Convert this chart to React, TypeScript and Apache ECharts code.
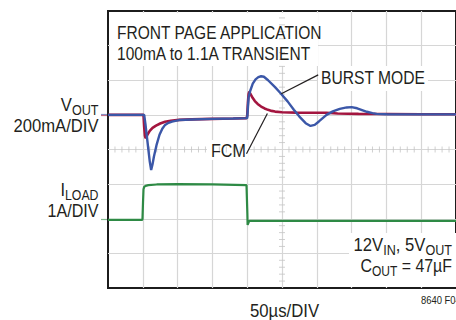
import React, { useEffect, useRef } from "react";
import * as echarts from "echarts";

// time in µs (50 µs/div), VOUT deviation in mV, ILOAD in A
const timeTicksUs = [0, 50, 100, 150, 200, 250, 300, 350, 400, 450, 500];
const divTicks = [0, 1, 2, 3, 4, 5, 6, 7, 8];

const fcmVout: [number, number][] = [
  [0, 0], [20, 1], [40, 0], [51, 0], [52, -70], [53, -120], [54, -135], [55, -130], [57, -112],
  [60, -92], [64, -75], [69, -62], [75, -50], [82, -40], [90, -34], [102, -29], [120, -26],
  [150, -23], [180, -21], [199, -19], [200, -5], [201, 70], [202, 120], [203, 135], [205, 118],
  [208, 97], [211, 80], [215, 63], [220, 48], [225, 37], [230, 29], [235, 23], [240, 19],
  [250, 15], [270, 13], [314, 12], [330, 8], [360, 6], [400, 5], [450, 4], [500, 4],
];

const burstVout: [number, number][] = [
  [0, 0], [30, 0], [52, 0], [54, -60], [56, -130], [58, -200], [60, -270], [62, -318], [64, -285],
  [66, -240], [70, -170], [74, -115], [78, -80], [82, -58], [87, -46], [92, -39], [102, -30],
  [120, -27], [150, -23], [180, -21], [200, -19], [201, 40], [202, 100], [204, 135], [208, 180],
  [212, 205], [216, 218], [220, 223], [224, 220], [230, 200], [240, 160], [248, 125], [258, 78],
  [267, 30], [275, -10], [284, -48], [291, -64], [297, -58], [303, -38], [314, 0], [323, 20],
  [333, 35], [343, 43], [350, 45], [358, 38], [365, 28], [372, 18], [380, 10], [386, 6],
  [400, 4], [450, 3], [500, 3],
];

const loadCurrent: [number, number][] = [
  [0, 0.1], [49.5, 0.1], [50.3, 0.6], [51, 0.98], [52, 1.05], [54, 1.08], [58, 1.1], [70, 1.12],
  [100, 1.13], [150, 1.12], [199, 1.1], [199.6, 1.1], [200.2, 0.3], [200.6, -0.05], [201.5, -0.05],
  [202.5, 0.05], [203.5, 0.07], [250, 0.07], [350, 0.07], [500, 0.07],
];

// annotation arrows: [start, end] in [µs, mV]
const burstArrow: [number, number][] = [[302, 231], [249, 122]];
const fcmArrow: [number, number][] = [[199, -225], [229, 8]];

const FONT = "'Liberation Sans', Arial, sans-serif";
const INK = "#231f20";
const BLUE = "#3b57a8";
const RED = "#a3153f";
const GREEN = "#2e8a45";
const GRID = "#d6d6d6";

export default function App() {
  const ref = useRef<HTMLDivElement>(null);
  useEffect(() => {
    if (!ref.current) return;
    const chart = echarts.init(ref.current, undefined, { renderer: "svg" });

    const hTicks: [number, number][] = [];
    for (let t = 0; t <= 500; t += 10) if (t % 50 !== 0) hTicks.push([t, 4]);
    const vTicks: [number, number][] = [];
    for (let i = 0; i <= 40; i++) if (i % 5 !== 0) vTicks.push([250, i / 5]);

    const txt = (x: number, y: number, text: string, size: number, sx: number, align = "left", extra: any = {}) => ({
      type: "text",
      z: 10,
      silent: true,
      x, y, scaleX: sx,
      style: {
        x: 0, y: 0, text,
        font: `${size}px ${FONT}`,
        fontSize: size,
        fontFamily: FONT,
        fill: INK,
        align, textAlign: align,
        verticalAlign: "middle", textVerticalAlign: "middle",
        ...extra,
      },
    });
    const sub = (size: number, subSize: number) => ({
      n: { fontSize: size, fontFamily: FONT, fill: INK, verticalAlign: "bottom", padding: [0, 0, 3, 0] },
      s: { fontSize: subSize, fontFamily: FONT, fill: INK, verticalAlign: "bottom" },
    });
    const box = (x: number, y: number, w: number, h: number) => ({
      type: "rect", z: 1, silent: true, shape: { x, y, width: w, height: h }, style: { fill: "#fff" },
    });
    const mark = (y: number, color: string) => ({
      type: "line", z: 1, silent: true, shape: { x1: 101, y1: y, x2: 107, y2: y },
      style: { stroke: color, lineWidth: 1.2, opacity: 0.6 },
    });

    chart.setOption({
      animation: false,
      grid: {
        left: 108, top: 11, width: 353, height: 277, show: true,
        borderColor: "#1c1c1c", borderWidth: 2, backgroundColor: "transparent",
      },
      xAxis: [{
        type: "value", min: timeTicksUs[0], max: timeTicksUs[timeTicksUs.length - 1], interval: 50,
        axisLine: { show: false }, axisTick: { show: false }, axisLabel: { show: false },
        splitLine: { show: true, showMinLine: false, showMaxLine: false, lineStyle: { color: GRID, width: 1.2 } },
      }],
      yAxis: [
        {
          type: "value", min: divTicks[0], max: divTicks[divTicks.length - 1], interval: 1,
          axisLine: { show: false }, axisTick: { show: false }, axisLabel: { show: false },
          splitLine: { show: true, showMinLine: false, showMaxLine: false, lineStyle: { color: GRID, width: 1.2 } },
        },
        { type: "value", min: -1000, max: 600, show: false, splitLine: { show: false } },
        { type: "value", min: -1.87, max: 6.13, show: false, splitLine: { show: false } },
      ],
      series: [
        {
          type: "scatter", silent: true, data: hTicks, symbol: "rect", symbolSize: [1, 6],
          itemStyle: { color: "#c4c4c4" }, z: 1,
        },
        {
          type: "scatter", silent: true, data: vTicks, symbol: "rect", symbolSize: [6, 1],
          itemStyle: { color: "#c4c4c4" }, z: 1,
        },
        {
          name: "FCM", type: "line", yAxisIndex: 1, data: fcmVout, showSymbol: false, symbol: "none",
          lineStyle: { color: RED, width: 2.6 }, z: 3,
          markLine: {
            silent: true, symbol: ["none", "arrow"], symbolSize: [0, 9],
            lineStyle: { color: INK, width: 1.2, type: "solid" }, label: { show: false },
            data: [[{ coord: fcmArrow[0] }, { coord: fcmArrow[1] }]],
          },
        },
        {
          name: "Burst Mode", type: "line", yAxisIndex: 1, data: burstVout, showSymbol: false, symbol: "none",
          lineStyle: { color: BLUE, width: 2.4 }, z: 4,
          markLine: {
            silent: true, symbol: ["none", "arrow"], symbolSize: [0, 9],
            lineStyle: { color: INK, width: 1.2, type: "solid" }, label: { show: false },
            data: [[{ coord: burstArrow[0] }, { coord: burstArrow[1] }]],
          },
        },
        {
          name: "ILOAD", type: "line", yAxisIndex: 2, data: loadCurrent, showSymbol: false, symbol: "none",
          lineStyle: { color: GREEN, width: 2.2 }, z: 3,
        },
      ],
      graphic: [
        box(110, 13, 208, 53),
        box(318, 66, 110, 25),
        box(207, 140, 41, 20),
        box(349, 233, 110, 54),
        mark(114.5, BLUE), mark(115.5, RED), mark(219.5, GREEN),
        txt(117, 33, "FRONT PAGE APPLICATION", 18.5, 0.84),
        txt(117, 54, "100mA to 1.1A TRANSIENT", 18.5, 0.84),
        txt(321, 78, "BURST MODE", 18.5, 0.845),
        txt(211, 150.5, "FCM", 18.5, 0.87),
        txt(98.5, 106, "{n|V}{s|OUT}", 18.5, 0.9, "right", { rich: sub(18.5, 14) }),
        txt(98.5, 126, "200mA/DIV", 18.5, 0.9, "right"),
        txt(98.5, 191, "{n|I}{s|LOAD}", 18.5, 0.88, "right", { rich: sub(18.5, 14) }),
        txt(98.5, 210.5, "1A/DIV", 18.5, 0.87, "right"),
        txt(452, 246, "{n|12V}{s|IN}{n|, 5V}{s|OUT}", 18.5, 0.9, "right", { rich: sub(18.5, 14) }),
        txt(452, 267, "{n|C}{s|OUT}{n| = 47µF}", 18.5, 0.86, "right", { rich: sub(18.5, 14) }),
        txt(284.5, 310.5, "50µs/DIV", 19, 0.88, "center"),
        txt(421, 300, "8640 F04", 10.5, 0.9),
      ],
    });
    return () => chart.dispose();
  }, []);
  return (
    <div
      ref={ref}
      style={{ position: "absolute", left: 0, top: 0, width: 456, height: 320, background: "#fff" }}
    />
  );
}
